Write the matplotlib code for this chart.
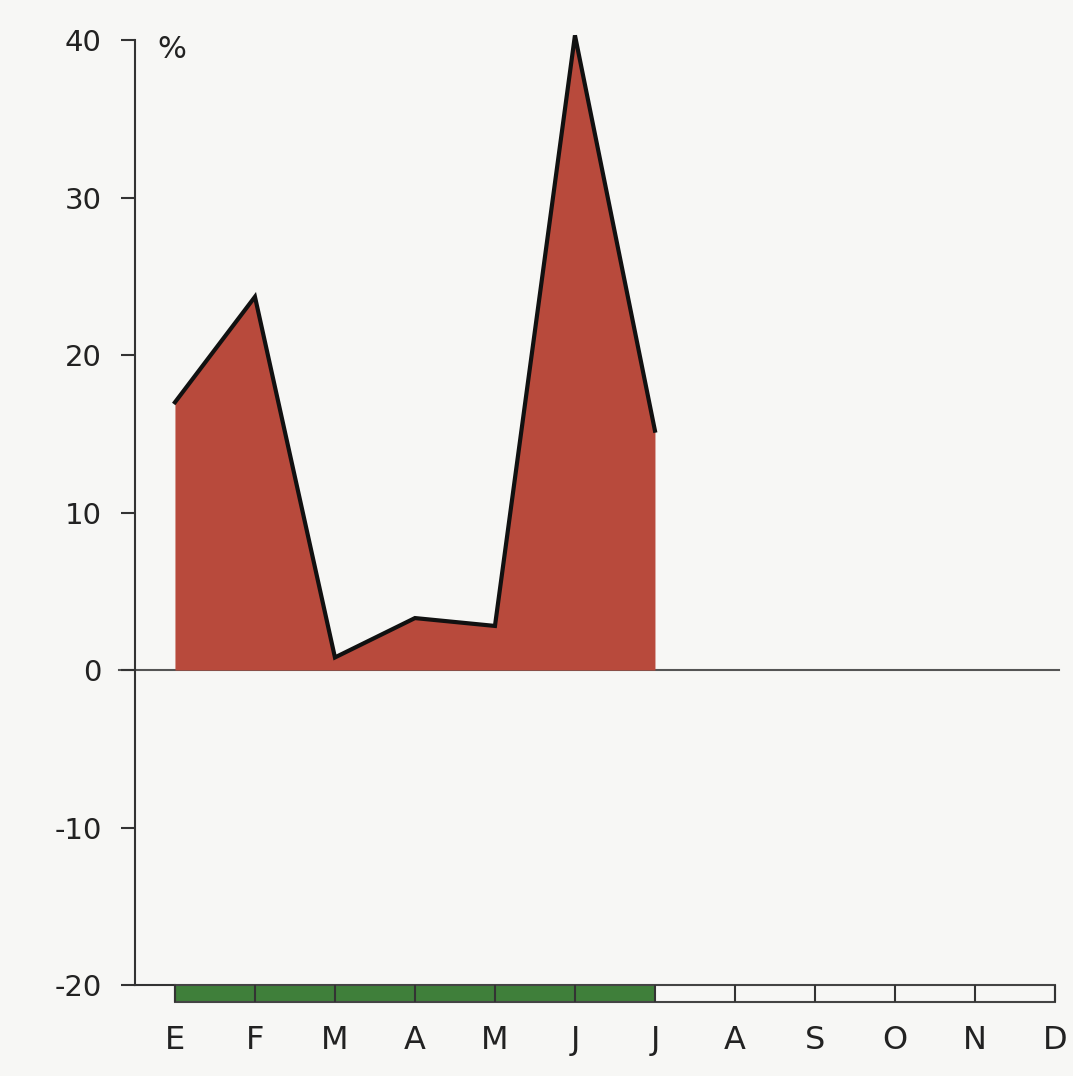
import numpy as np
import matplotlib.pyplot as plt
from matplotlib.patches import Rectangle

# monthly change in %, January to July
months = ["E", "F", "M", "A", "M", "J", "J", "A", "S", "O", "N", "D"]
values = [17.0, 23.7, 0.8, 3.3, 2.8, 40.3, 15.2]
y_ticks = [-20, -10, 0, 10, 20, 30, 40]
y_labels = ["-20", "-10", "0", "10", "20", "30", "40"]
green_months = 7  # months covered by the green strip

bg = "#f7f7f5"
red = "#b84a3c"
green = "#3f7f3a"

fig = plt.figure(figsize=(10.73, 10.76), dpi=100, facecolor=bg)
ax = fig.add_axes([0.1034, 0.0626, 0.8947, 0.9221])
ax.set_facecolor(bg)
ax.set_xlim(-0.8, 11.2)
ax.set_ylim(-21.5, 41.5)

x = np.arange(len(values))
ax.fill_between(x, values, 0, color=red, linewidth=0, zorder=2)
ax.plot(x, values, color="#111111", linewidth=3, solid_joinstyle="miter", zorder=3)

# zero line
ax.plot([-0.7, 11.05], [0, 0], color="#555555", linewidth=1.5, zorder=1)

# left axis
for s in ["top", "right", "bottom"]:
    ax.spines[s].set_visible(False)
ax.spines["left"].set_position(("data", -0.5))
ax.spines["left"].set_bounds(-20, 40)
ax.spines["left"].set_color("#333333")
ax.spines["left"].set_linewidth(1.5)
ax.set_yticks(y_ticks)
ax.set_yticklabels(y_labels, fontsize=21, color="#222222")
ax.tick_params(axis="y", direction="out", length=10, width=1.5, color="#333333", pad=14)

ax.text(-0.22, 39.4, "%", fontsize=22, color="#222222", ha="left", va="center")

# bottom strip
ax.plot([-0.5, 0], [-20, -20], color="#333333", linewidth=1.5, clip_on=False)
ax.add_patch(Rectangle((0, -21.1), green_months - 1, 1.1, facecolor=green,
                       edgecolor="none", zorder=2, clip_on=False))
ax.add_patch(Rectangle((0, -21.1), len(months) - 1, 1.1, facecolor="none",
                       edgecolor="#444444", linewidth=1.5, zorder=3, clip_on=False))
ax.vlines(np.arange(len(months)), -21.1, -20, color="#333333", linewidth=1.5,
          zorder=3, clip_on=False)

ax.set_xticks(np.arange(len(months)))
ax.set_xticklabels(months, fontsize=23, color="#222222")
ax.tick_params(axis="x", length=0, pad=12)

fig.savefig("out.png", dpi=100, facecolor=bg)
